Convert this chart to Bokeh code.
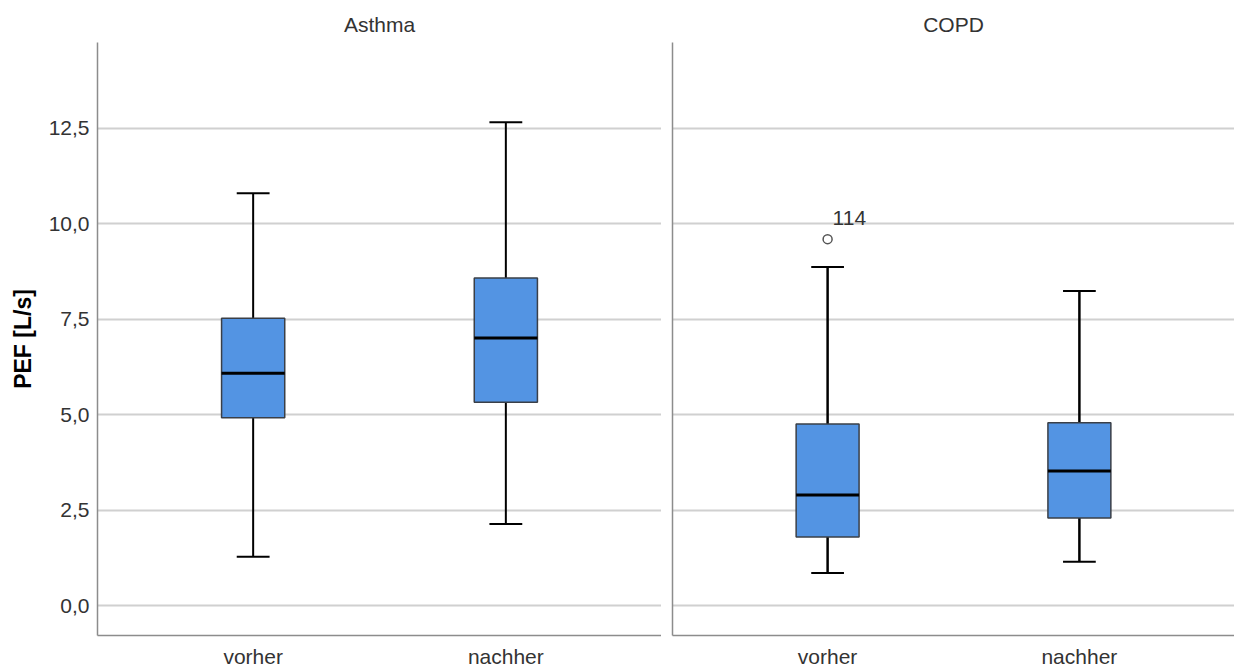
from bokeh.plotting import figure
from bokeh.layouts import row
from bokeh.models import ColumnDataSource, FixedTicker, CustomJSTickFormatter, FactorRange, Range1d
from bokeh.transform import dodge
from bokeh.core.properties import value
from bokeh.embed import file_html
from bokeh.resources import INLINE

groups = ["Asthma", "COPD"]
cats = ["vorher", "nachher"]

asthma_low = [1.28, 2.14]
asthma_q1 = [4.92, 5.33]
asthma_med = [6.09, 7.01]
asthma_q3 = [7.53, 8.58]
asthma_high = [10.80, 12.66]

copd_low = [0.86, 1.15]
copd_q1 = [1.80, 2.30]
copd_med = [2.90, 3.53]
copd_q3 = [4.76, 4.79]
copd_high = [8.87, 8.24]

outlier_cat = ["vorher"]
outlier_val = [9.60]
outlier_lbl = ["114"]

yticks = [0.0, 2.5, 5.0, 7.5, 10.0, 12.5]

FONT = "Liberation Sans"
BOX_W = 0.25
CAP_W = 0.13
TXT = "#333333"


def make_panel(title, low, q1, med, q3, high, width, border_left, first, whisker_w):
    p = figure(width=width, height=670, output_backend="svg", toolbar_location=None,
               x_range=FactorRange(*cats, range_padding=0.116, range_padding_units="absolute"),
               y_range=Range1d(-0.78, 14.75),
               min_border_left=border_left, min_border_right=0,
               min_border_top=42, min_border_bottom=34, title=title)
    p.title.align = "center"
    p.title.text_font = FONT
    p.title.text_font_size = "21px"
    p.title.text_font_style = "normal"
    p.title.text_color = TXT
    p.title.standoff = 13
    p.outline_line_color = None
    p.background_fill_color = "white"
    p.border_fill_color = "white"

    src = ColumnDataSource(dict(x=cats, low=low, q1=q1, med=med, q3=q3, high=high))

    p.segment(x0="x", y0="q3", x1="x", y1="high", source=src, line_color="black", line_width=whisker_w)
    p.segment(x0="x", y0="q1", x1="x", y1="low", source=src, line_color="black", line_width=whisker_w)
    p.segment(x0=dodge("x", -CAP_W / 2, range=p.x_range), y0="high",
              x1=dodge("x", CAP_W / 2, range=p.x_range), y1="high",
              source=src, line_color="black", line_width=2)
    p.segment(x0=dodge("x", -CAP_W / 2, range=p.x_range), y0="low",
              x1=dodge("x", CAP_W / 2, range=p.x_range), y1="low",
              source=src, line_color="black", line_width=2)
    p.vbar(x="x", bottom="q1", top="q3", width=BOX_W, source=src,
           fill_color="#5394e3", line_color="#3a3f47", line_width=1.5)
    p.segment(x0=dodge("x", -BOX_W / 2, range=p.x_range), y0="med",
              x1=dodge("x", BOX_W / 2, range=p.x_range), y1="med",
              source=src, line_color="black", line_width=3)

    p.xgrid.grid_line_color = None
    p.ygrid.ticker = FixedTicker(ticks=yticks)
    p.ygrid.grid_line_color = "#d0d0d0"
    p.ygrid.grid_line_width = 2

    p.yaxis.ticker = FixedTicker(ticks=yticks)
    for ax in (p.xaxis, p.yaxis):
        ax.axis_line_color = "#8c8c8c"
        ax.axis_line_width = 1.5
        ax.major_tick_line_color = None
        ax.minor_tick_line_color = None
        ax.major_tick_out = 0
        ax.major_tick_in = 0
        ax.major_label_text_font = FONT
        ax.major_label_text_font_size = "21px"
        ax.major_label_text_color = TXT
    p.xaxis.major_label_standoff = 9
    if first:
        p.yaxis.formatter = CustomJSTickFormatter(code="return tick.toFixed(1).replace('.', ',');")
        p.yaxis.major_label_standoff = 8
        p.yaxis.axis_label = "PEF [L/s]"
        p.yaxis.axis_label_text_font = FONT
        p.yaxis.axis_label_text_font_size = "23px"
        p.yaxis.axis_label_text_font_style = "bold"
        p.yaxis.axis_label_text_color = "black"
        p.yaxis.axis_label_standoff = 10
    else:
        p.yaxis.formatter = CustomJSTickFormatter(code="return '';")
        p.yaxis.major_label_standoff = 0
    return p


p1 = make_panel(groups[0], asthma_low, asthma_q1, asthma_med, asthma_q3, asthma_high,
                661, 97, True, 2)
p2 = make_panel(groups[1], copd_low, copd_q1, copd_med, copd_q3, copd_high,
                573, 11, False, 2.5)

osrc = ColumnDataSource(dict(x=outlier_cat, y=outlier_val, lbl=outlier_lbl))
p2.scatter(x="x", y="y", source=osrc, marker="circle", size=9,
           fill_color="white", line_color="#555555", line_width=1.5)
p2.text(x="x", y="y", text="lbl", source=osrc, x_offset=5, y_offset=-21,
        text_font=value(FONT), text_font_size="21px", text_color=TXT,
        text_baseline="alphabetic", text_align="left")

layout = row(p1, p2, spacing=0)
open("out.html", "w").write(file_html(layout, INLINE))
